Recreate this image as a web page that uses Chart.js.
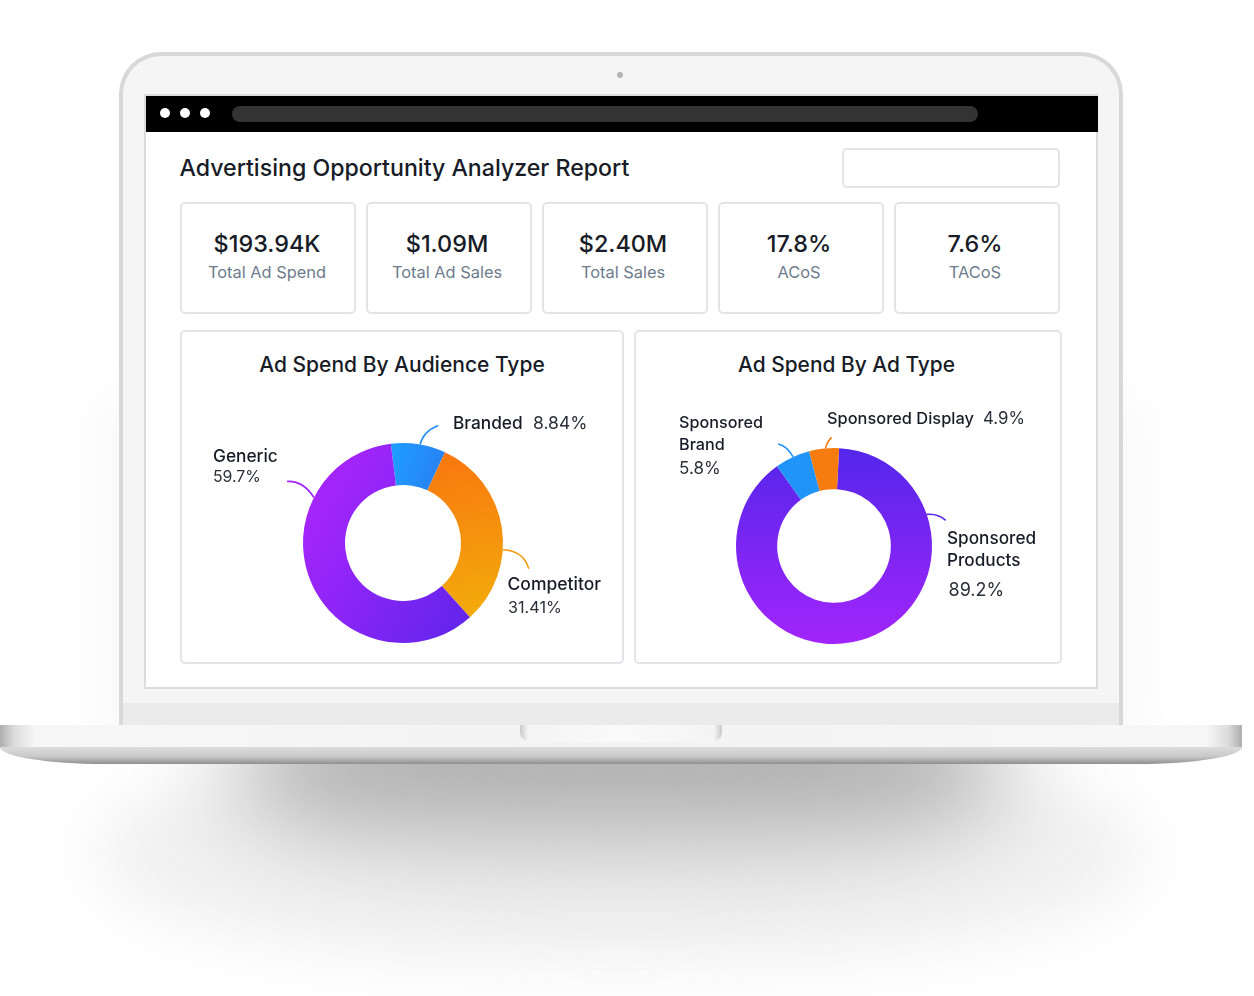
<!DOCTYPE html>
<html>
<head>
<meta charset="utf-8">
<script src="https://cdn.jsdelivr.net/npm/chart.js@4"></script>
<style>
  html, body { margin: 0; padding: 0; background: #fff; }
  body { width: 1254px; height: 996px; position: relative; overflow: hidden; font-family: Inter, "Noto Sans", sans-serif; color: #171c26; }
  div, canvas { position: absolute; box-sizing: border-box; }
  /* laptop */
  .shadow { left: 240px; top: 690px; width: 760px; height: 165px; border-radius: 40%; background: linear-gradient(#9a9a9a, #b4b4b4 60%, #d0d0d0); filter: blur(48px); }
  .shadow2 { left: 100px; top: 740px; width: 1040px; height: 225px; border-radius: 45%; background: #f1f1f1; filter: blur(30px); }
  .glow { left: 96px; top: 400px; width: 1050px; height: 340px; background: #f9f9f9; filter: blur(22px); }
  .lid { left: 119px; top: 52px; width: 1004px; height: 680px; background: #f5f5f5; border: 4px solid #d8d8d8; border-bottom: 0; border-radius: 42px 42px 0 0; }
  .chin { left: 123px; top: 703px; width: 996px; height: 22px; background: #ebebeb; }
  .cam { left: 617px; top: 72px; width: 6px; height: 6px; border-radius: 50%; background: #b4b4b4; }
  .screen { left: 144px; top: 94px; width: 954px; height: 595px; background: #fff; border: 2px solid #dcdcdc; }
  .bar { left: 146px; top: 96px; width: 952px; height: 36px; background: #000; }
  .dot { top: 108px; width: 10px; height: 10px; border-radius: 50%; background: #fff; }
  .url { left: 232px; top: 106px; width: 746px; height: 16px; border-radius: 8px; background: #333; }
  .base { left: 0; top: 725px; width: 1242px; height: 23px; background: linear-gradient(90deg, #aeaeae 0, #dcdcdc 14px, #f7f7f7 36px, #f3f3f3 50%, #f7f7f7 calc(100% - 36px), #dcdcdc calc(100% - 14px), #aeaeae 100%); }
  .under { left: 0; top: 747px; width: 1242px; height: 17px; border-radius: 0 0 105px 105px / 0 0 17px 17px; background: linear-gradient(#dcdcdc, #c9c9c9 55%, #8f8f8f); }
  .notch { left: 520px; top: 725px; width: 202px; height: 17px; border-radius: 0 0 10px 10px; background: linear-gradient(90deg, #c9c9c9 0, #f4f4f4 8px, #fafafa 50%, #f4f4f4 calc(100% - 8px), #c9c9c9 100%); }
  /* report */
  .title { left: 179.5px; top: 153px; font-size: 23.15px; line-height: 30px; font-weight: 500; white-space: nowrap; }
  .input { left: 842px; top: 148px; width: 218px; height: 40px; border: 2px solid #e3e4ea; border-radius: 5px; }
  .card { top: 202px; height: 112px; border: 2px solid #e3e4ea; border-radius: 5px; text-align: center; }
  .kpi { left: 0; right: 0; top: 25px; font-size: 23.4px; line-height: 30px; font-weight: 500; }
  .kpiName { left: 0; right: 0; top: 58px; font-size: 16.4px; line-height: 20px; color: #6d7c8c; }
  .panel { top: 330px; height: 334px; border: 2px solid #e3e4ea; border-radius: 5px; }
  .panelTitle { left: 0; right: 0; top: 19px; text-align: center; font-size: 21px; line-height: 28px; font-weight: 500; }
  #titleB { right: 3px; font-size: 20.9px; }
  .lbl { line-height: 22px; font-weight: 500; white-space: nowrap; }
  .val { line-height: 22px; font-weight: 400; white-space: nowrap; color: #2a2f38; }
</style>
</head>
<body>
<div class="glow"></div>
<div class="shadow2"></div>
<div class="shadow"></div>
<div class="lid"></div>
<div class="chin"></div>
<div class="cam"></div>
<div class="screen"></div>
<div class="bar"></div>
<div class="dot" style="left:160px"></div>
<div class="dot" style="left:180px"></div>
<div class="dot" style="left:200px"></div>
<div class="url"></div>
<div class="base"></div>
<div class="under"></div>
<div class="notch"></div>

<div class="title">Advertising Opportunity Analyzer Report</div>
<div class="input"></div>
<div id="cards"></div>
<div class="panel" style="left:180px;width:444px"><div class="panelTitle" id="titleA"></div></div>
<div class="panel" style="left:634px;width:428px"><div class="panelTitle" id="titleB"></div></div>
<canvas id="audienceChart" style="left:253px;top:393px"></canvas>
<canvas id="adTypeChart" style="left:686px;top:398px"></canvas>
<div id="labels"></div>

<script>
const kpiValues = ["$193.94K", "$1.09M", "$2.40M", "17.8%", "7.6%"];
const kpiNames = ["Total Ad Spend", "Total Ad Sales", "Total Sales", "ACoS", "TACoS"];

const audienceTitle = "Ad Spend By Audience Type";
const audienceTypes = ["Branded", "Competitor", "Generic"];
const audienceValues = [8.84, 31.41, 59.7];

const adTypeTitle = "Ad Spend By Ad Type";
const adTypes = ["Sponsored Products", "Sponsored Brand", "Sponsored Display"];
const adTypeValues = [89.2, 5.8, 4.9];

// card boxes
const cardX = [180, 366, 542, 718, 894];
const cardW = [176, 166, 166, 166, 166];
const cardsEl = document.getElementById("cards");
kpiValues.forEach((v, i) => {
  const c = document.createElement("div");
  c.className = "card";
  c.style.left = cardX[i] + "px";
  c.style.width = cardW[i] + "px";
  const a = document.createElement("div");
  a.className = "kpi";
  a.textContent = v;
  const b = document.createElement("div");
  b.className = "kpiName";
  b.textContent = kpiNames[i];
  const shift = i === 0 ? 2 : 4;
  a.style.right = shift + "px";
  b.style.right = shift + "px";
  c.append(a, b);
  cardsEl.append(c);
});
document.getElementById("titleA").textContent = audienceTitle;
document.getElementById("titleB").textContent = adTypeTitle;

// slice labels, name lines then value
const labelsEl = document.getElementById("labels");
function addText(cls, text, x, y, size) {
  const d = document.createElement("div");
  d.className = cls;
  d.textContent = text;
  d.style.left = x + "px";
  d.style.top = y + "px";
  d.style.fontSize = size + "px";
  labelsEl.append(d);
}
const pct = v => v + "%";

addText("lbl", audienceTypes[0], 453, 412, 17.3);
addText("val", pct(audienceValues[0]), 533, 412, 17.5);
addText("lbl", audienceTypes[1], 507.5, 573, 17.5);
addText("val", pct(audienceValues[1]), 508, 596, 16.2);
addText("lbl", audienceTypes[2], 213, 445, 17.3);
addText("val", pct(audienceValues[2]), 213, 465.5, 15.8);

addText("lbl", adTypes[0].split(" ")[0], 947, 527, 17.2);
addText("lbl", adTypes[0].split(" ")[1], 947, 549, 17.2);
addText("val", pct(adTypeValues[0]), 948.5, 579, 18);
addText("lbl", adTypes[1].split(" ")[0], 679, 411, 16.2);
addText("lbl", adTypes[1].split(" ")[1], 679, 433, 16.2);
addText("val", pct(adTypeValues[1]), 679, 457, 17);
addText("lbl", adTypes[2], 827, 407, 16.4);
addText("val", pct(adTypeValues[2]), 983, 407, 16.8);

// curved leader from the outer edge of a slice
const leaderPlugin = {
  id: "leaders",
  afterDatasetsDraw(chart, args, opts) {
    const { ctx } = chart;
    const arcs = chart.getDatasetMeta(0).data;
    opts.items.forEach(l => {
      const arc = arcs[l.index];
      const a = arc.startAngle + (arc.endAngle - arc.startAngle) * l.at;
      const x0 = arc.x + Math.cos(a) * arc.outerRadius;
      const y0 = arc.y + Math.sin(a) * arc.outerRadius;
      ctx.save();
      ctx.strokeStyle = l.color;
      ctx.lineWidth = 1.6;
      ctx.beginPath();
      ctx.moveTo(x0, y0);
      ctx.quadraticCurveTo(x0 + l.cx, y0 + l.cy, x0 + l.dx, y0 + l.dy);
      ctx.stroke();
      ctx.restore();
    });
  }
};

function makeGradient(chart, stops) {
  const g = chart.ctx.createLinearGradient(stops[0], stops[1], stops[2], stops[3]);
  g.addColorStop(0, stops[4]);
  g.addColorStop(1, stops[5]);
  return g;
}

function drawDonut(id, size, labels, values, rotation, grads, leaders) {
  const canvas = document.getElementById(id);
  canvas.style.width = size + "px";
  canvas.style.height = size + "px";
  return new Chart(canvas, {
    type: "doughnut",
    plugins: [leaderPlugin],
    data: {
      labels,
      datasets: [{
        data: values,
        borderWidth: 0,
        backgroundColor: c => {
          const g = grads[c.dataIndex];
          return typeof g === "string" ? g : makeGradient(c.chart, g);
        }
      }]
    },
    options: {
      responsive: false,
      animation: false,
      rotation,
      cutout: "58%",
      layout: { padding: 50 },
      plugins: {
        legend: { display: false },
        tooltip: { enabled: false },
        leaders: { items: leaders }
      }
    }
  });
}

document.getElementById("audienceChart").width = 300;
document.getElementById("audienceChart").height = 300;
document.getElementById("adTypeChart").width = 296;
document.getElementById("adTypeChart").height = 296;

drawDonut("audienceChart", 300, audienceTypes, audienceValues, -7,
  [
    [140, 60, 200, 80, "#1e9cff", "#2c7cef"],
    [190, 60, 220, 225, "#f9770f", "#f2ac0b"],
    [50, 150, 225, 250, "#a225fb", "#5c25ea"]
  ],
  [
    { index: 0, at: 0.53, dx: 18, dy: -19, cx: 3, cy: -13, color: "#2090f8" },
    { index: 1, at: 0.61, dx: 26, dy: 19, cx: 21, cy: 1, color: "#f59a0e" },
    { index: 2, at: 0.74, dx: -27, dy: -16, cx: -11, cy: -17, color: "#a025fb" }
  ]);

drawDonut("adTypeChart", 296, adTypes, adTypeValues, 3,
  [
    [148, 50, 148, 246, "#5426ea", "#a225fb"],
    "#2094f8",
    "#f67c10"
  ],
  [
    { index: 0, at: 0.212, dx: 19, dy: 6, cx: 11, cy: -1, color: "#5a26ea" },
    { index: 1, at: 0.52, dx: -15, dy: -13, cx: -6, cy: -11, color: "#2094f8" },
    { index: 2, at: 0.55, dx: 6, dy: -11, cx: 1, cy: -6, color: "#f67c10" }
  ]);
</script>
</body>
</html>
